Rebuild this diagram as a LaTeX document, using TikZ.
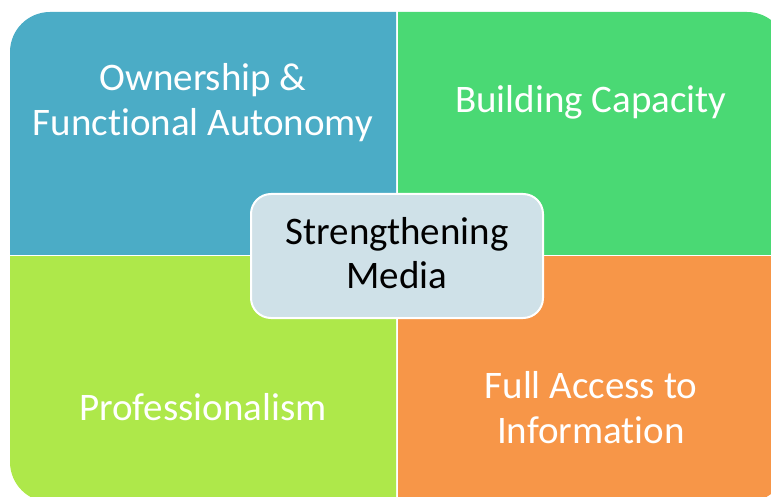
\documentclass[tikz,border=0pt]{standalone}
\usepackage{fontspec}
\setmainfont{Carlito}[Ligatures=NoCommon]
\definecolor{qblue}{RGB}{75,172,198}
\definecolor{qgreen}{RGB}{74,217,116}
\definecolor{qlime}{RGB}{174,232,74}
\definecolor{qorange}{RGB}{247,150,72}
\definecolor{cfill}{RGB}{207,225,232}
\begin{document}
\begin{tikzpicture}[x=1pt,y=-1pt,
  outer/.style={fill,rounded corners=40pt},
  qtext/.style={text=white,align=center,font=\fontsize{39}{45}\selectfont,anchor=base,inner sep=0pt},
  ctext/.style={text=black,align=center,font=\fontsize{39}{44}\selectfont,anchor=base,inner sep=0pt},
  cbox/.style={draw=white,line width=2pt,fill=cfill,rounded corners=20pt,minimum width=292pt,minimum height=124pt}]
\useasboundingbox (0,0) rectangle (771,497);
\begin{scope}
  \clip (10,12) rectangle (396,254);
  \path[outer,qblue] (10,12) rectangle (787,502);
\end{scope}
\begin{scope}
  \clip (398,12) rectangle (787,254);
  \path[outer,qgreen] (10,12) rectangle (787,502);
\end{scope}
\begin{scope}
  \clip (10,256) rectangle (396,502);
  \path[outer,qlime] (10,12) rectangle (787,502);
\end{scope}
\begin{scope}
  \clip (398,256) rectangle (787,502);
  \path[outer,qorange] (10,12) rectangle (787,502);
\end{scope}
\node[qtext] (own) at (203,136) {Ownership \&\\Functional Autonomy};
\node[qtext] (bld) at (591,113) {Building Capacity};
\node[qtext] (pro) at (203,420) {Professionalism};
\node[qtext] (acc) at (591,443) {Full Access to\\Information};
\node[cbox] (ctr) at (397,256) {};
\node[ctext] (sm) at (397,288) {Strengthening\\Media};
\end{tikzpicture}
\end{document}
